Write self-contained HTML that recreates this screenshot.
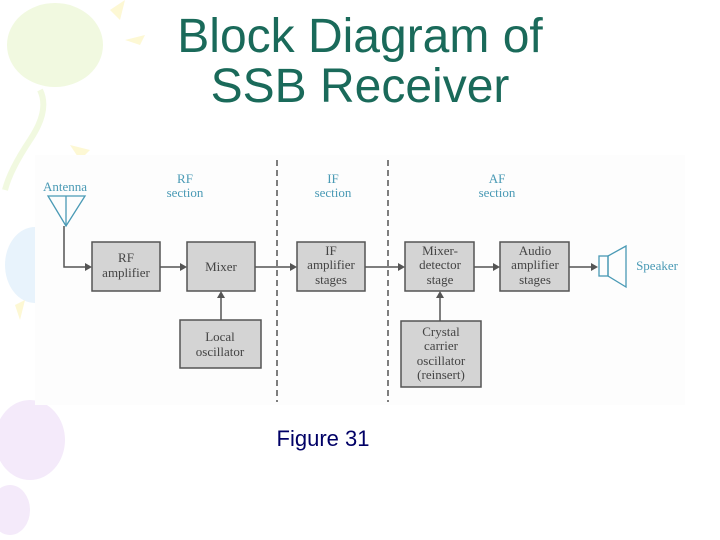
<!DOCTYPE html>
<html><head><meta charset="utf-8"><style>
body{margin:0;width:720px;height:540px;overflow:hidden;background:#fff}
svg{display:block}
</style></head><body>
<svg width="720" height="540" xmlns="http://www.w3.org/2000/svg" font-family="Liberation Serif, serif">
<ellipse cx="55" cy="45" rx="48" ry="42" fill="#f1f9e0"/>
<path d="M40 90 Q50 110 30 140 Q10 170 5 190" stroke="#f1f9e0" stroke-width="6" fill="none"/>
<ellipse cx="35" cy="265" rx="30" ry="38" fill="#e8f3fc"/>
<ellipse cx="30" cy="440" rx="35" ry="40" fill="#f4eafa"/>
<ellipse cx="10" cy="510" rx="20" ry="25" fill="#f4eafa"/>
<polygon points="110,10 125,0 120,20" fill="#fdf8d4"/>
<polygon points="125,40 145,35 140,45" fill="#fdf8d4"/>
<polygon points="70,145 90,150 80,160" fill="#fdf8d4"/>
<polygon points="15,305 25,300 20,320" fill="#fdf8d4"/>
<rect x="35" y="155" width="650" height="250" fill="#fdfdfd"/>
<text x="360" y="52" text-anchor="middle" font-family="Liberation Sans, sans-serif" font-size="48" fill="#1a6a5a">Block Diagram of</text>
<text x="360" y="102" text-anchor="middle" font-family="Liberation Sans, sans-serif" font-size="48" fill="#1a6a5a">SSB Receiver</text>
<line x1="277" y1="160" x2="277" y2="402" stroke="#555" stroke-width="1.5" stroke-dasharray="6,4"/>
<line x1="388" y1="160" x2="388" y2="402" stroke="#555" stroke-width="1.5" stroke-dasharray="6,4"/>
<g fill="#4a9ab5" font-size="13" text-anchor="middle">
<text x="185" y="183">RF</text><text x="185" y="197">section</text>
<text x="333" y="183">IF</text><text x="333" y="197">section</text>
<text x="497" y="183">AF</text><text x="497" y="197">section</text>
<text x="65" y="191">Antenna</text>
<text x="657" y="270">Speaker</text>
</g>
<polygon points="48,196 85,196 66,226" fill="none" stroke="#4a9ab5" stroke-width="1.3"/>
<line x1="66" y1="196" x2="66" y2="226" stroke="#4a9ab5" stroke-width="1.3"/>
<rect x="599" y="256" width="9" height="20" fill="none" stroke="#4a9ab5" stroke-width="1.3"/>
<polygon points="608,256 626,246 626,287 608,276" fill="none" stroke="#4a9ab5" stroke-width="1.3"/>
<g stroke="#555" stroke-width="1.5" fill="none">
<polyline points="64,226 64,267 86,267"/>
<line x1="160" y1="267" x2="181" y2="267"/>
<line x1="255" y1="267" x2="291" y2="267"/>
<line x1="365" y1="267" x2="399" y2="267"/>
<line x1="474" y1="267" x2="494" y2="267"/>
<line x1="569" y1="267" x2="592" y2="267"/>
<line x1="221" y1="320" x2="221" y2="298"/>
<line x1="440" y1="321" x2="440" y2="298"/>
</g>
<g fill="#555">
<polygon points="92,267 85,263 85,271"/>
<polygon points="187,267 180,263 180,271"/>
<polygon points="297,267 290,263 290,271"/>
<polygon points="405,267 398,263 398,271"/>
<polygon points="500,267 493,263 493,271"/>
<polygon points="598,267 591,263 591,271"/>
<polygon points="221,291 217,298 225,298"/>
<polygon points="440,291 436,298 444,298"/>
</g>
<g fill="#d4d4d4" stroke="#555" stroke-width="1.5">
<rect x="92" y="242" width="68" height="49"/>
<rect x="187" y="242" width="68" height="49"/>
<rect x="180" y="320" width="81" height="48"/>
<rect x="297" y="242" width="68" height="49"/>
<rect x="405" y="242" width="69" height="49"/>
<rect x="500" y="242" width="69" height="49"/>
<rect x="401" y="321" width="80" height="66"/>
</g>
<g fill="#444" font-size="13" text-anchor="middle">
<text x="126" y="262">RF</text><text x="126" y="277">amplifier</text>
<text x="221" y="271">Mixer</text>
<text x="220" y="341">Local</text><text x="220" y="356">oscillator</text>
<text x="331" y="255">IF</text><text x="331" y="269">amplifier</text><text x="331" y="284">stages</text>
<text x="440" y="255">Mixer-</text><text x="440" y="269">detector</text><text x="440" y="284">stage</text>
<text x="535" y="255">Audio</text><text x="535" y="269">amplifier</text><text x="535" y="284">stages</text>
<text x="441" y="336">Crystal</text><text x="441" y="350">carrier</text><text x="441" y="365">oscillator</text><text x="441" y="379">(reinsert)</text>
</g>
<text x="323" y="446" text-anchor="middle" font-family="Liberation Sans, sans-serif" font-size="22" fill="#000066">Figure 31</text>
</svg>
</body></html>
